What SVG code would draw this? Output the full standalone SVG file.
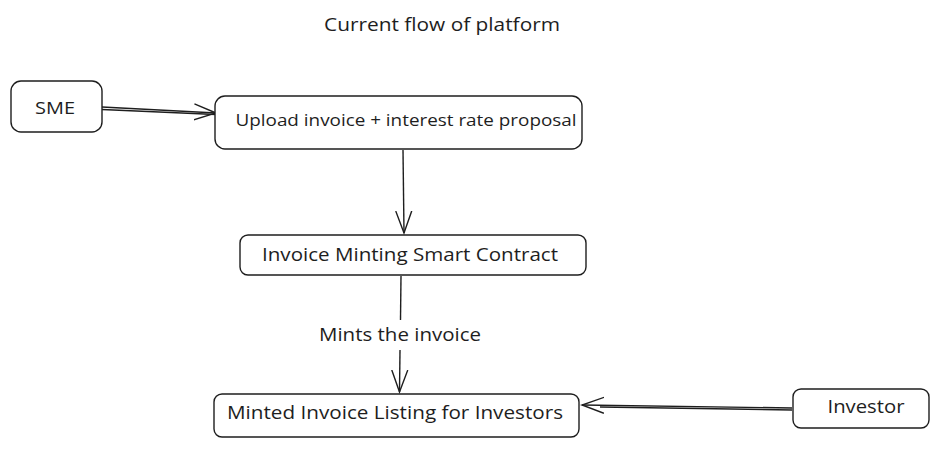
<svg xmlns="http://www.w3.org/2000/svg" width="940" height="449" viewBox="0 0 940 449">
<style>
.box{fill:#fff;stroke:#1e1e1e;stroke-width:1.4}
.t{font-family:"Open Sans",Lato,sans-serif;fill:#1e1e1e;text-anchor:middle}
.c{fill:none;stroke:#1e1e1e;stroke-width:1.4}
</style>
<defs>
<marker id="ah" viewBox="0 0 24 20" refX="22" refY="10" markerWidth="24" markerHeight="20" markerUnits="userSpaceOnUse" orient="auto">
<path d="M0,2 L22,10 L0,18" fill="none" stroke="#1e1e1e" stroke-width="1.4"/>
</marker>
</defs>
<rect width="940" height="449" fill="#fff"/>
<text class="t" x="442" y="31" font-size="19" textLength="236" lengthAdjust="spacingAndGlyphs">Current flow of platform</text>
<g id="connectors">
<path class="c" d="M102,107 L216,113" marker-end="url(#ah)"/>
<path class="c" d="M102,109.5 L216,114.5"/>
<path class="c" d="M403,150 L404,233" marker-end="url(#ah)"/>
<path class="c" d="M401,276 L400.5,320"/>
<path class="c" d="M400,350 L399.5,392" marker-end="url(#ah)"/>
<path class="c" d="M792,408 L582,405" marker-end="url(#ah)"/>
<path class="c" d="M792,410 L600,407"/>
<text class="t" x="400" y="341" font-size="19" textLength="162" lengthAdjust="spacingAndGlyphs">Mints the invoice</text>
</g>
<g id="sme">
<rect class="box" x="11" y="81" width="91" height="51" rx="10"/>
<text class="t" x="55" y="114" font-size="17" textLength="40" lengthAdjust="spacingAndGlyphs">SME</text>
</g>
<g id="upload">
<rect class="box" x="215" y="96" width="367" height="53" rx="10"/>
<text class="t" x="406" y="126" font-size="16" textLength="341" lengthAdjust="spacingAndGlyphs">Upload invoice + interest rate proposal</text>
</g>
<g id="minting">
<rect class="box" x="240" y="235" width="346" height="40" rx="8"/>
<text class="t" x="410" y="261" font-size="19" textLength="296" lengthAdjust="spacingAndGlyphs">Invoice Minting Smart Contract</text>
</g>
<g id="listing">
<rect class="box" x="214" y="394" width="365" height="43" rx="8"/>
<text class="t" x="395" y="419" font-size="19" textLength="336" lengthAdjust="spacingAndGlyphs">Minted Invoice Listing for Investors</text>
</g>
<g id="investor">
<rect class="box" x="793" y="389" width="136" height="39" rx="8"/>
<text class="t" x="866" y="413" font-size="19" textLength="77" lengthAdjust="spacingAndGlyphs">Investor</text>
</g>
</svg>
